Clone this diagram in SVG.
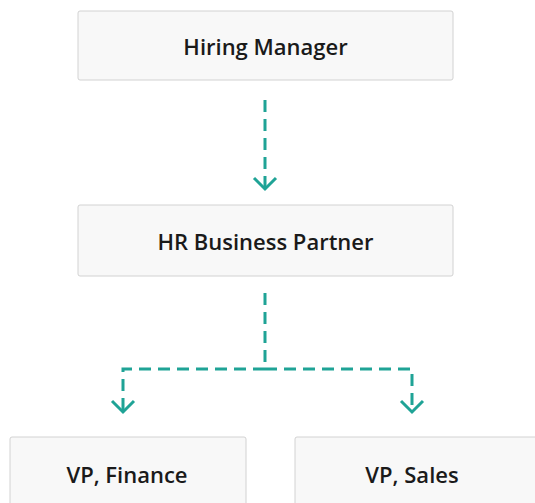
<svg xmlns="http://www.w3.org/2000/svg" width="535" height="503" viewBox="0 0 535 503">
  <style>
    .box { fill: #f8f8f8; stroke: #d2d2d2; stroke-width: 1; }
    .label { font-family: "Open Sans", "Noto Sans", sans-serif; font-size: 22px; font-weight: 600; fill: #1a1a1a; text-anchor: middle; dominant-baseline: central; }
    .link { fill: none; stroke: #1fa396; stroke-width: 3; stroke-dasharray: 12 7; }
    .head { fill: none; stroke: #1fa396; stroke-width: 3; }
  </style>
  <rect width="535" height="503" fill="#ffffff"/>

  <g id="connectors">
    <path class="link" d="M265 100 V188"/>
    <path class="head" d="M254 178 L265 189 L276 178"/>
    <path class="link" d="M265 293 V369 H123 V411"/>
    <path class="link" d="M265 369 H412 V411"/>
    <path class="head" d="M112 401 L123 412 L134 401"/>
    <path class="head" d="M401 401 L412 412 L423 401"/>
  </g>

  <g id="hiring-manager">
    <rect class="box" x="78" y="11" width="375" height="69" rx="2"/>
    <text class="label" x="265.5" y="46">Hiring Manager</text>
  </g>

  <g id="hr-business-partner">
    <rect class="box" x="78" y="205" width="375" height="71" rx="2"/>
    <text class="label" x="265.5" y="241">HR Business Partner</text>
  </g>

  <g id="vp-finance">
    <rect class="box" x="10" y="437" width="236" height="80" rx="2"/>
    <text class="label" x="127" y="474">VP, Finance</text>
  </g>

  <g id="vp-sales">
    <rect class="box" x="295" y="437" width="250" height="80" rx="2"/>
    <text class="label" x="412" y="474">VP, Sales</text>
  </g>
</svg>
